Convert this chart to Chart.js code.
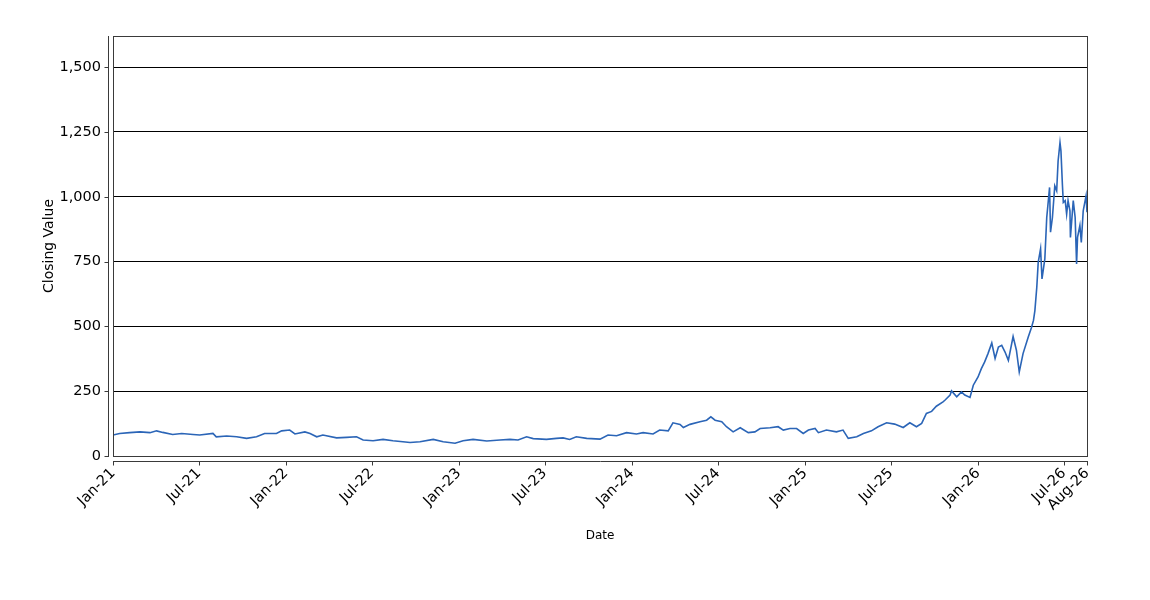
<!DOCTYPE html>
<html>
<head>
<meta charset="utf-8">
<script src="https://cdn.jsdelivr.net/npm/chart.js@4.4.1/dist/chart.umd.min.js"></script>
<style>
  html, body { margin: 0; padding: 0; background: #fff; }
  #wrap { width: 1150px; height: 600px; position: relative; }
</style>
</head>
<body>
<div id="wrap"><canvas id="chart"></canvas></div>
<script>
// ===== DATA =====
const dates = [
  '2021-01-01', '2021-01-15', '2021-02-05', '2021-02-27', '2021-03-20', '2021-04-03', '2021-04-16', '2021-05-07',
  '2021-05-26', '2021-06-19', '2021-07-03', '2021-07-31', '2021-08-07', '2021-08-29', '2021-09-19', '2021-10-10',
  '2021-10-31', '2021-11-17', '2021-12-12', '2021-12-23', '2022-01-09', '2022-01-20', '2022-02-10', '2022-02-21',
  '2022-03-07', '2022-03-20', '2022-04-18', '2022-05-09', '2022-05-30', '2022-06-13', '2022-07-04', '2022-07-25',
  '2022-08-15', '2022-09-05', '2022-09-20', '2022-10-11', '2022-11-08', '2022-11-29', '2022-12-24', '2023-01-10',
  '2023-01-31', '2023-03-01', '2023-03-29', '2023-04-19', '2023-05-06', '2023-05-24', '2023-06-07', '2023-07-05',
  '2023-07-26', '2023-08-09', '2023-08-23', '2023-09-06', '2023-09-28', '2023-10-26', '2023-11-12', '2023-11-30',
  '2023-12-21', '2024-01-11', '2024-01-25', '2024-02-15', '2024-02-29', '2024-03-18', '2024-03-28', '2024-04-12',
  '2024-04-19', '2024-05-03', '2024-05-24', '2024-06-07', '2024-06-16', '2024-06-25', '2024-07-09', '2024-07-19',
  '2024-08-02', '2024-08-17', '2024-09-03', '2024-09-17', '2024-09-28', '2024-10-19', '2024-11-05', '2024-11-16',
  '2024-11-30', '2024-12-14', '2024-12-28', '2025-01-08', '2025-01-22', '2025-01-29', '2025-02-15', '2025-03-08',
  '2025-03-22', '2025-04-02', '2025-04-20', '2025-05-04', '2025-05-21', '2025-06-04', '2025-06-22', '2025-07-09',
  '2025-07-27', '2025-08-10', '2025-08-24', '2025-09-04', '2025-09-14', '2025-09-25', '2025-10-05', '2025-10-19',
  '2025-10-23', '2025-11-03', '2025-11-06', '2025-11-17', '2025-11-27', '2025-12-04', '2025-12-15', '2025-12-22',
  '2026-01-01', '2026-01-08', '2026-01-15', '2026-01-22', '2026-01-30', '2026-02-06', '2026-02-13', '2026-02-20',
  '2026-02-27', '2026-03-06', '2026-03-16', '2026-03-23', '2026-03-29', '2026-04-06', '2026-04-17', '2026-04-24',
  '2026-04-28', '2026-05-01', '2026-05-05', '2026-05-08', '2026-05-13', '2026-05-16', '2026-05-22', '2026-05-26',
  '2026-06-01', '2026-06-03', '2026-06-07', '2026-06-12', '2026-06-16', '2026-06-19', '2026-06-23', '2026-06-25',
  '2026-06-28', '2026-06-30', '2026-07-04', '2026-07-07', '2026-07-10', '2026-07-14', '2026-07-15', '2026-07-21',
  '2026-07-25', '2026-07-28', '2026-07-30', '2026-08-04', '2026-08-07', '2026-08-11', '2026-08-17', '2026-08-19',
];

const closing = [
  81, 87, 90, 93, 90, 97, 91, 83,
  87, 83, 81, 87, 74, 77, 74, 68,
  74, 87, 87, 97, 100, 85, 93, 87,
  74, 81, 70, 72, 74, 62, 59, 64,
  59, 55, 52, 55, 64, 55, 49, 59,
  64, 58, 62, 64, 62, 74, 67, 64,
  68, 70, 64, 74, 68, 65, 81, 78,
  90, 85, 90, 85, 100, 97, 128, 122,
  110, 122, 132, 138, 151, 138, 132, 113,
  93, 109, 90, 93, 106, 109, 113, 100,
  106, 106, 87, 100, 106, 90, 100, 93,
  100, 68, 74, 87, 97, 113, 128, 123,
  110, 128, 113, 126, 164, 172, 192, 209,
  215, 235, 251, 228, 247, 235, 226, 273,
  305, 337, 363, 395, 436, 376, 420, 427,
  401, 369, 461, 408, 324, 395, 459, 497,
  523, 561, 651, 747, 799, 683, 760, 920,
  1036, 863, 920, 1042, 1023, 1138, 1209, 1177,
  1049, 978, 985, 933, 985, 946, 843, 985,
  920, 741, 843, 889, 824, 946, 1004, 940,
];

const tickDates = [
  '2021-01-01', '2021-07-01', '2022-01-01', '2022-07-01', '2023-01-01', '2023-07-01',
  '2024-01-01', '2024-07-01', '2025-01-01', '2025-07-01', '2026-01-01', '2026-07-01', '2026-08-19',
];
const tickLabels = [
  'Jan-21', 'Jul-21', 'Jan-22', 'Jul-22', 'Jan-23', 'Jul-23',
  'Jan-24', 'Jul-24', 'Jan-25', 'Jul-25', 'Jan-26', 'Jul-26', 'Aug-26',
];

const yMax = 1620;
const yStep = 250;

// ===== HELPERS =====
const DAY0 = Date.UTC(2021, 0, 1);
function dayIndex(iso) {
  const [y, m, d] = iso.split('-').map(Number);
  return (Date.UTC(y, m - 1, d) - DAY0) / 86400000;
}

const points = dates.map((d, i) => ({ x: dayIndex(d), y: closing[i] }));
const tickDays = tickDates.map(dayIndex);

const FONT = 'DejaVu Sans';
const LINE = '#2b65b7';
const FRAME = '#3a3a3a';

// Draws the plot frame plus the detached axis lines with their tick marks
const frameAxes = {
  id: 'frameAxes',
  afterDraw(chart) {
    const { ctx, chartArea: a, scales } = chart;
    const gap = 5;
    ctx.save();
    ctx.strokeStyle = FRAME;
    ctx.lineWidth = 1;
    ctx.strokeRect(a.left + 0.5, a.top + 0.5, a.right - a.left, a.bottom - a.top);

    const ax = Math.round(a.left - gap) + 0.5;
    const ay = Math.round(a.bottom + gap) + 0.5;
    ctx.beginPath();
    ctx.moveTo(ax, a.top);
    ctx.lineTo(ax, a.bottom + 1);
    ctx.moveTo(a.left, ay);
    ctx.lineTo(a.right + 1, ay);
    scales.y.ticks.forEach((t) => {
      const py = Math.round(scales.y.getPixelForValue(t.value)) + 0.5;
      ctx.moveTo(ax - 4, py);
      ctx.lineTo(ax, py);
    });
    scales.x.ticks.forEach((t) => {
      const px = Math.round(scales.x.getPixelForValue(t.value)) + 0.5;
      ctx.moveTo(px, ay);
      ctx.lineTo(px, ay + 4);
    });
    ctx.stroke();
    ctx.restore();
  },
};

new Chart(document.getElementById('chart'), {
  type: 'line',
  data: {
    datasets: [
      {
        label: 'Closing Value',
        data: points,
        borderColor: LINE,
        backgroundColor: LINE,
        borderWidth: 1.6,
        pointRadius: 0,
        tension: 0,
      },
    ],
  },
  options: {
    responsive: true,
    maintainAspectRatio: false,
    animation: false,
    layout: { padding: { left: 0, top: 36, right: 63, bottom: 0 } },
    plugins: {
      legend: { display: false },
      tooltip: { enabled: false },
    },
    scales: {
      x: {
        type: 'linear',
        min: 0,
        max: tickDays[tickDays.length - 1],
        afterBuildTicks: (scale) => {
          scale.ticks = tickDays.map((v) => ({ value: v }));
        },
        afterFit: (scale) => { scale.height = 144; },
        grid: { display: false, drawTicks: false },
        border: { display: false },
        ticks: {
          autoSkip: false,
          minRotation: 45,
          maxRotation: 45,
          padding: 9,
          color: '#000',
          font: { family: FONT, size: 14.5 },
          callback: (v) => {
            const i = tickDays.indexOf(v);
            return i >= 0 ? tickLabels[i] : '';
          },
        },
        title: {
          display: true,
          text: 'Date',
          color: '#000',
          font: { family: FONT, size: 12 },
          padding: { top: 0, bottom: 57 },
        },
      },
      y: {
        min: 0,
        max: yMax,
        afterFit: (scale) => { scale.width = 113; },
        grid: { color: '#000', lineWidth: 1, drawTicks: false },
        border: { display: false },
        ticks: {
          stepSize: yStep,
          includeBounds: false,
          padding: 12,
          color: '#000',
          font: { family: FONT, size: 14.5 },
          callback: (v) => v.toLocaleString('en-US'),
        },
        title: {
          display: true,
          text: 'Closing Value',
          color: '#000',
          font: { family: FONT, size: 14 },
          padding: { top: 41, bottom: 0 },
        },
      },
    },
  },
  plugins: [frameAxes],
});
</script>
</body>
</html>
